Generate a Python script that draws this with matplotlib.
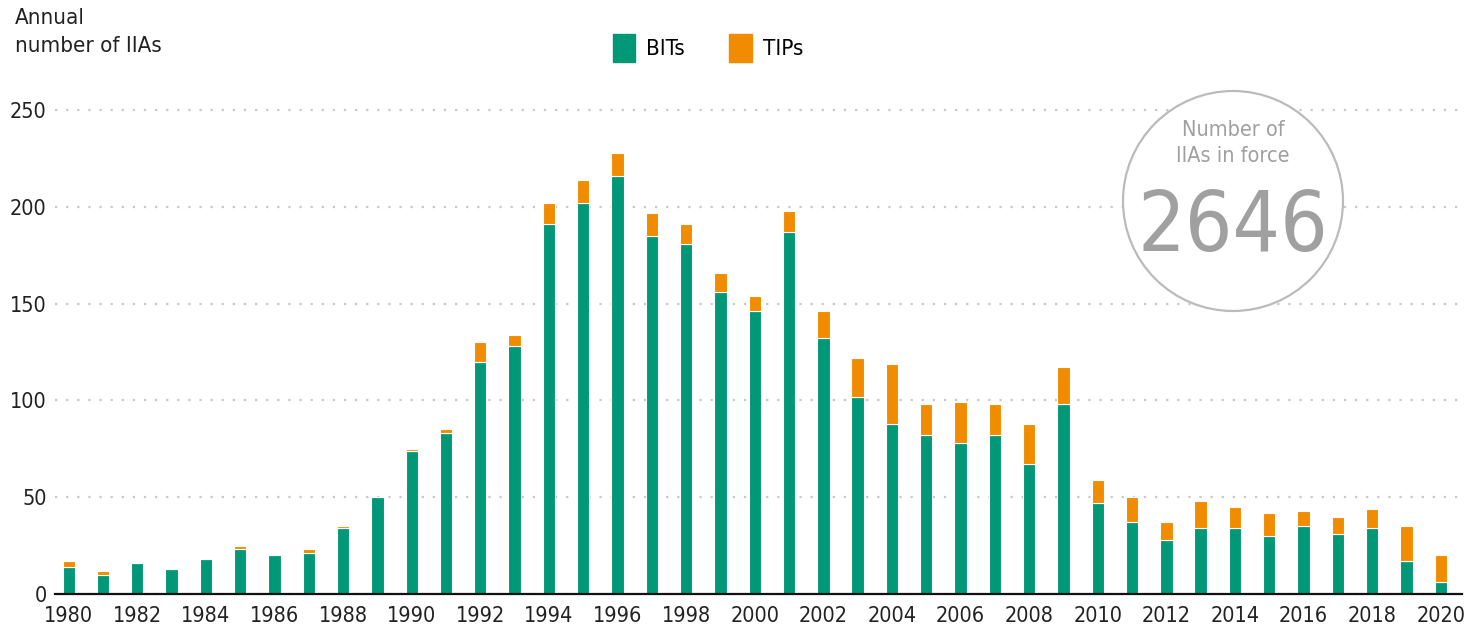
import matplotlib.pyplot as plt
import matplotlib.patches as mpatches
import numpy as np

plt.rcParams['font.family'] = ['DejaVu Sans']
plt.rcParams['font.stretch'] = 'condensed'

years = list(range(1980, 2021))
bits = [14, 10, 16, 13, 18, 23, 20, 21, 34, 50,
        74, 83, 120, 128, 191, 202, 216, 185, 181, 156,
        146, 187, 132, 102, 88, 82, 78, 82, 67, 98,
        47, 37, 28, 34, 34, 30, 35, 31, 34, 17, 6]
tips = [3, 2, 0, 0, 0, 2, 0, 2, 1, 0,
        1, 2, 10, 6, 11, 12, 12, 12, 10, 10,
        8, 11, 14, 20, 31, 16, 21, 16, 21, 19,
        12, 13, 9, 14, 11, 12, 8, 9, 10, 18, 14]
in_force = "2646"

GREEN = "#009877"
ORANGE = "#F18C00"

W, H = 1465, 636
fig = plt.figure(figsize=(W / 100, H / 100), dpi=100)
ax = fig.add_axes([55 / W, 42 / H, 1407 / W, 493.7 / H])

x = np.array(years)
ax.bar(x, bits, width=0.36, color=GREEN, edgecolor="white", linewidth=0.8, zorder=3)
ax.bar(x, tips, width=0.36, bottom=bits, color=ORANGE, edgecolor="white", linewidth=0.8, zorder=3)

ax.set_xlim(1979.6, 2020.62)
ax.set_ylim(0, 255)
ax.set_yticks([0, 50, 100, 150, 200, 250])
ax.set_xticks(years[::2])
ax.tick_params(axis="both", length=0, labelsize=15.5, colors="#222222")
ax.tick_params(axis="x", pad=9)
ax.tick_params(axis="y", pad=6)
ax.yaxis.grid(True, color="#c8c8c8", linestyle=(0, (1, 4)), linewidth=1.6, zorder=0)
ax.set_axisbelow(True)
for s in ["top", "right", "left"]:
    ax.spines[s].set_visible(False)
ax.spines["bottom"].set_linewidth(1.6)
ax.spines["bottom"].set_color("#111111")
ax.spines["bottom"].set_zorder(4)

fig.text(15 / W, 1 - 8 / H, "Annual\nnumber of IIAs", ha="left", va="top",
         fontsize=16, color="#222222", linespacing=1.5)

# legend
handles = [mpatches.Patch(color=GREEN, label="BITs"),
           mpatches.Patch(color=ORANGE, label="TIPs")]
fig.legend(handles=handles, loc="center", bbox_to_anchor=(708 / W, 1 - 48 / H),
           ncol=2, frameon=False, fontsize=16, handlelength=1.0, handleheight=1.5,
           handletextpad=0.5, columnspacing=2.0)

# circle with total
circ = mpatches.Circle((1233 / 100, (H - 201) / 100), 1.1, transform=fig.dpi_scale_trans,
                       facecolor="white", edgecolor="#bbbbbb", linewidth=1.6, zorder=1)
fig.patches.append(circ)
fig.text(1233 / W, 1 - 143 / H, "Number of\nIIAs in force", ha="center", va="center",
         fontsize=15.5, color="#a0a0a0", linespacing=1.35, zorder=6)
fig.text(1233 / W, 1 - 228 / H, in_force, ha="center", va="center",
         fontsize=60, color="#a0a0a0", zorder=6)

fig.savefig("out.png", dpi=100)
